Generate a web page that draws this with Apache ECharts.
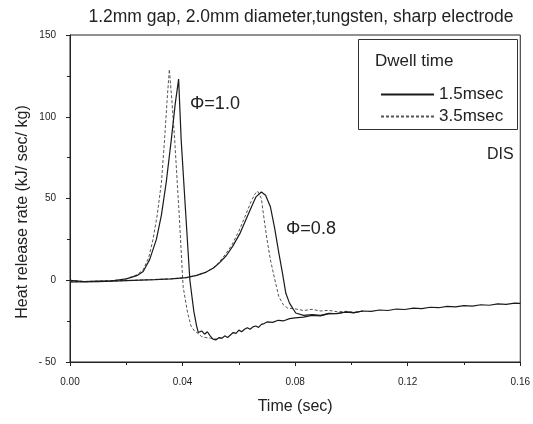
<!DOCTYPE html>
<html>
<head>
<meta charset="utf-8">
<script src="https://cdn.jsdelivr.net/npm/echarts@6/dist/echarts.min.js"></script>
<style>html,body{margin:0;padding:0;background:#fff}#c{width:533px;height:424px}</style>
</head>
<body>
<div id="c"></div>
<script>
// ---- data ----
const xTicks = [0.00, 0.04, 0.08, 0.12, 0.16];
const yTicks = [-50, 0, 50, 100, 150];
const legendNames = ['1.5msec', '3.5msec'];

// Phi = 1.0, dwell 1.5 msec (solid)
const t10s = [0, 0.005, 0.010, 0.015, 0.020, 0.024, 0.026, 0.0283, 0.0307, 0.0325, 0.0342, 0.036, 0.0374, 0.0386, 0.0395, 0.0410, 0.0426, 0.0440, 0.0450, 0.0456, 0.0468, 0.0478, 0.0488, 0.0498, 0.0508, 0.0518, 0.053, 0.054, 0.055, 0.056, 0.057, 0.058, 0.059, 0.060, 0.061, 0.062, 0.063, 0.064, 0.065, 0.066, 0.067, 0.068, 0.069, 0.070, 0.072, 0.074, 0.076, 0.078, 0.080, 0.083, 0.086, 0.089, 0.092, 0.095, 0.098, 0.101, 0.104, 0.107, 0.110, 0.113, 0.116, 0.119, 0.122, 0.125, 0.128, 0.131, 0.134, 0.137, 0.140, 0.143, 0.146, 0.149, 0.152, 0.155, 0.158, 0.160];
const y10s = [0, -0.8, -0.5, -0.3, 0.8, 3, 5.4, 12.6, 25, 40, 60, 86, 108, 123, 86, 44, 0, -19, -28, -32, -31, -33, -31.5, -34, -36, -36.5, -35, -35.5, -34, -35, -33.5, -32, -32.5, -30.5, -31.5, -30, -29, -30, -28.5, -28, -28.8, -27, -26.5, -25.5, -25.8, -24.5, -24.8, -23.5, -23, -22.5, -21.5, -21.8, -20.5, -20.2, -19.5, -19.8, -18.8, -19, -18.2, -18.5, -17.6, -17.9, -17, -17.3, -16.5, -16.8, -16, -16.3, -15.5, -15.8, -15, -15.3, -14.5, -14.8, -14, -14.2];

// Phi = 1.0, dwell 3.5 msec (dashed)
const t10d = [0, 0.005, 0.010, 0.015, 0.020, 0.024, 0.026, 0.028, 0.0295, 0.031, 0.0325, 0.0336, 0.0345, 0.0353, 0.0362, 0.0372, 0.0388, 0.0402, 0.0418, 0.0430, 0.0442, 0.0455, 0.0468, 0.048, 0.050, 0.052, 0.054];
const y10d = [0, -0.8, -0.5, -0.3, 0.8, 3.5, 6.5, 14, 25, 40, 60, 86, 110, 129, 110, 86, 40, -4, -20, -28, -31, -32.5, -34.5, -35, -35.5, -36, -35.3];

// Phi = 0.8, dwell 1.5 msec (solid)
const t08s = [0, 0.010, 0.020, 0.030, 0.036, 0.0413, 0.045, 0.0484, 0.051, 0.053, 0.0555, 0.0578, 0.0605, 0.0625, 0.0645, 0.0661, 0.0680, 0.0695, 0.0712, 0.0727, 0.0742, 0.0755, 0.0767, 0.0780, 0.0802, 0.083, 0.086, 0.089, 0.092, 0.095, 0.098, 0.101, 0.104];
const y08s = [-1, -0.8, -0.2, 0.4, 0.9, 1.6, 3, 5, 7.5, 10.5, 15, 20.7, 29, 37, 45, 51, 54, 52, 45, 32, 16.7, 4.4, -8, -14, -20, -21.5, -21, -21.5, -20.3, -20.5, -19.4, -19.9, -18.8];

// Phi = 0.8, dwell 3.5 msec (dashed)
const t08d = [0, 0.010, 0.020, 0.030, 0.036, 0.0413, 0.045, 0.0484, 0.051, 0.053, 0.0553, 0.0575, 0.0600, 0.0622, 0.0643, 0.0658, 0.0667, 0.0680, 0.0690, 0.0700, 0.0712, 0.0727, 0.0742, 0.0758, 0.0773, 0.0800, 0.083, 0.086, 0.089, 0.092, 0.095, 0.098, 0.101, 0.104];
const y08d = [-1, -0.8, -0.2, 0.4, 0.9, 1.6, 3, 5, 7.8, 11, 16, 21.5, 30, 39, 48, 53, 54.5, 50, 37, 25, 12.6, 1, -10, -15, -17, -17.5, -18.5, -17.8, -18.8, -18.4, -19.3, -19, -19.6, -18.9];

// ---- chart ----
const zip = (t, y) => t.map((v, i) => [v, y[i]]);
const chart = echarts.init(document.getElementById('c'), null, {renderer: 'canvas'});
const FONT = '"Liberation Sans", Arial, sans-serif';
const solid = {color: '#1a1a1a', width: 1.2, type: 'solid'};
const dashed = {color: '#555', width: 1, type: [3, 2]};

chart.setOption({
  animation: false,
  backgroundColor: '#fff',
  title: {
    text: '1.2mm gap, 2.0mm diameter,tungsten, sharp electrode',
    left: 296, top: 3, textAlign: 'center',
    textStyle: {fontFamily: FONT, fontSize: 17.5, fontWeight: 'normal', color: '#222'}
  },
  grid: {left: 70, right: 11, top: 35, bottom: 62, show: true, borderColor: '#222', borderWidth: 1, backgroundColor: 'transparent'},
  legend: {
    data: legendNames,
    orient: 'vertical', left: 375, top: 81, itemGap: 5,
    itemWidth: 53, itemHeight: 15,
    itemStyle: {opacity: 0},
    textStyle: {fontFamily: FONT, fontSize: 17, color: '#222'}
  },
  xAxis: {
    type: 'value', min: xTicks[0], max: xTicks[xTicks.length - 1], interval: 0.04,
    name: 'Time (sec)', nameLocation: 'middle', nameGap: 37,
    nameTextStyle: {fontFamily: FONT, fontSize: 16, color: '#222'},
    axisLine: {onZero: false, lineStyle: {color: '#222', width: 1}},
    axisTick: {show: true, length: 4, lineStyle: {color: '#222'}},
    minorTick: {show: true, splitNumber: 2, length: 3, lineStyle: {color: '#222'}},
    splitLine: {show: false},
    axisLabel: {fontFamily: FONT, fontSize: 10, color: '#222', margin: 15, formatter: v => v.toFixed(2)}
  },
  yAxis: {
    type: 'value', min: yTicks[0], max: yTicks[yTicks.length - 1], interval: 50,
    axisLine: {onZero: false, lineStyle: {color: '#222', width: 1}},
    axisTick: {show: true, length: 4, lineStyle: {color: '#222'}},
    minorTick: {show: true, splitNumber: 2, length: 3, lineStyle: {color: '#222'}},
    splitLine: {show: false},
    axisLabel: {fontFamily: FONT, fontSize: 10, color: '#222', margin: 14, formatter: v => v < 0 ? '- ' + Math.abs(v) : String(v)}
  },
  series: [
    {name: legendNames[0], type: 'line', data: zip(t10s, y10s), showSymbol: false, symbol: 'none', lineStyle: solid, itemStyle: {color: solid.color}, z: 3},
    {name: legendNames[1], type: 'line', data: zip(t10d, y10d), showSymbol: false, symbol: 'none', lineStyle: dashed, itemStyle: {color: dashed.color}, z: 2},
    {name: legendNames[0], type: 'line', data: zip(t08s, y08s), showSymbol: false, symbol: 'none', lineStyle: solid, itemStyle: {color: solid.color}, z: 3},
    {name: legendNames[1], type: 'line', data: zip(t08d, y08d), showSymbol: false, symbol: 'none', lineStyle: dashed, itemStyle: {color: dashed.color}, z: 2}
  ],
  graphic: [
    {type: 'text', x: 23, y: 212, rotation: Math.PI / 2, style: {text: 'Heat release rate (kJ/ sec/ kg)', font: '16px ' + FONT, fill: '#222', align: 'center', verticalAlign: 'middle'}},
    {type: 'rect', left: 358, top: 39, shape: {width: 159, height: 90}, style: {fill: 'transparent', stroke: '#333', lineWidth: 1}},
    {type: 'text', left: 375, top: 53, style: {text: 'Dwell time', font: '17px ' + FONT, fill: '#222'}},
    {type: 'text', left: 487, top: 147, style: {text: 'DIS', font: '16px ' + FONT, fill: '#222'}},
    {type: 'text', left: 190, top: 95, style: {text: 'Φ=1.0', font: '18px ' + FONT, fill: '#222'}},
    {type: 'text', left: 286, top: 220, style: {text: 'Φ=0.8', font: '18px ' + FONT, fill: '#222'}}
  ]
});
</script>
</body>
</html>
